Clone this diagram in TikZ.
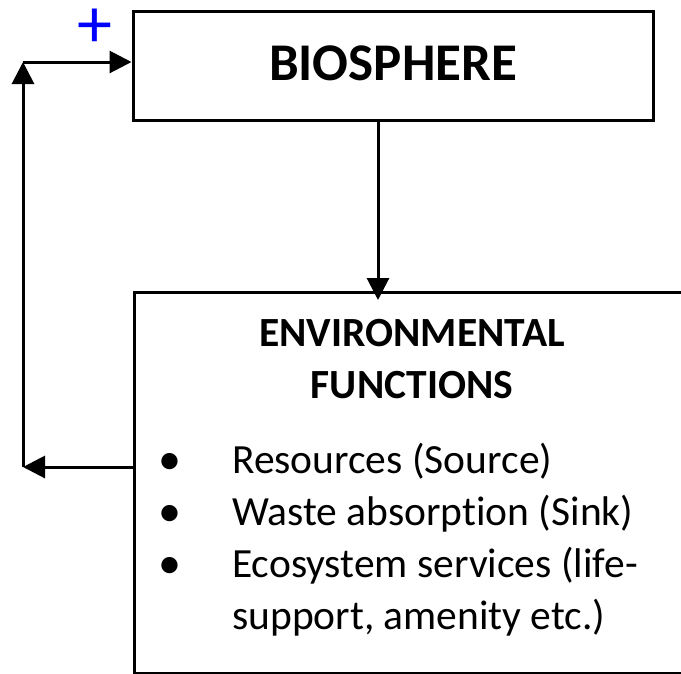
\documentclass[tikz,border=0pt]{standalone}
\usepackage{fontspec}
\setmainfont[Ligatures=NoCommon]{Carlito}
\usetikzlibrary{arrows.meta}
\tikzset{
  boxstyle/.style={draw=black, line width=3pt, rectangle, inner sep=0pt},
  conn/.style={line width=3pt, -{Triangle[length=22pt,width=22pt]}},
  bodytext/.style={font=\fontsize{41.5}{52}\selectfont, inner sep=0pt, anchor=base west},
  titletext/.style={font=\fontsize{41.5}{52}\selectfont\bfseries, inner sep=0pt, anchor=base},
}
\begin{document}
\begin{tikzpicture}[x=1pt,y=-1pt]
\useasboundingbox (0,0) rectangle (681,673);
% boxes
\node[boxstyle, minimum width=520pt, minimum height=109pt] (bio) at (393,65.5) {};
\node[font=\fontsize{53}{60}\selectfont\bfseries, inner sep=0pt, anchor=base] (biotext) at (393,80) {BIOSPHERE};
\node[boxstyle, minimum width=570pt, minimum height=381pt, anchor=north west] (env) at (133,291) {};
% title
\node[titletext] (t1) at (412,346) {ENVIRONMENTAL};
\node[titletext] (t2) at (412,398) {FUNCTIONS};
% bullets
\node[bodytext, font=\fontsize{46}{52}\selectfont] (b1) at (158,474) {•};
\node[bodytext] (l1) at (232,473) {Resources (Source)};
\node[bodytext, font=\fontsize{46}{52}\selectfont] (b2) at (158,526) {•};
\node[bodytext] (l2) at (232,525) {Waste absorption (Sink)};
\node[bodytext, font=\fontsize{46}{52}\selectfont] (b3) at (158,578) {•};
\node[bodytext] (l3) at (232,577) {Ecosystem services (life-};
\node[bodytext] (l4) at (232,629) {support, amenity etc.)};
% plus sign
\node[text=blue, font=\fontsize{70}{70}\selectfont, inner sep=0pt, anchor=center] (plus) at (95,28) {+};
% connectors
\coordinate (fbl) at (23,467);
\coordinate (fbt) at (23,62);
\coordinate (envtop) at (378,300);
\draw[conn] (bio.south -| envtop) -- (envtop);
\draw[conn] (env.west |- fbl) -- (fbl);
\draw[conn] (fbl) -- (fbt);
\draw[conn] (fbt) -- (fbt -| bio.west);
\end{tikzpicture}
\end{document}
